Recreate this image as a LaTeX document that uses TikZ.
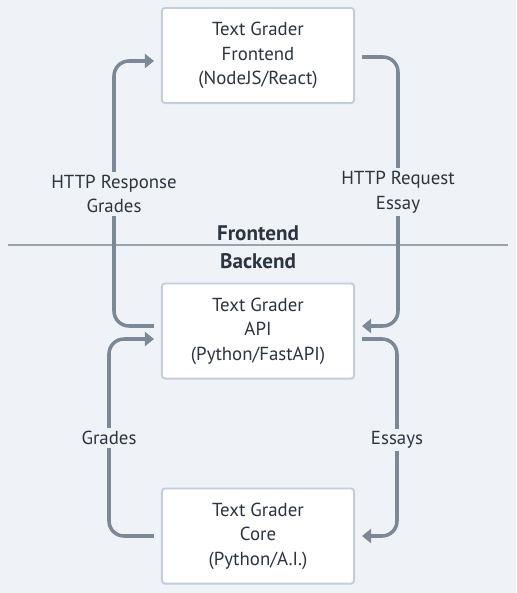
\documentclass[tikz,border=0pt]{standalone}
\usepackage{fontspec}
\setmainfont{PT Sans}
\definecolor{tg_bg}{RGB}{239, 243, 247}
\definecolor{tg_text}{RGB}{43, 52, 64}
\definecolor{tg_flow}{RGB}{123, 136, 152}
\definecolor{tg_edge}{RGB}{195, 206, 218}
\definecolor{tg_sep}{RGB}{150, 164, 178}
\usetikzlibrary{arrows.meta, calc}

\begin{document}
\begin{tikzpicture}[
        x=0.025cm, y=-0.025cm,
        every node/.style={font=\fontsize{13.4}{17.5}\selectfont, text=tg_text},
        box/.style={draw=tg_edge, line width=1.4pt, fill=white, rounded corners=2pt, minimum width=4.8cm, minimum height=2.375cm, align=center, execute at begin node={\rule{0pt}{19pt}}},
        flow/.style={draw=tg_flow, line width=2.5pt, rounded corners=0.375cm, -{Triangle[length=6.5pt, width=10pt]}},
        tag/.style={fill=tg_bg, inner sep=2pt, align=center},
        side/.style={font=\fontsize{15}{19}\selectfont\bfseries},
      ]
        \fill[tg_bg] (0,0) rectangle (516,593);
        \useasboundingbox (0,0) rectangle (516,593);

        \node[box] (fe)   at (258,55.5) {Text Grader\\Frontend\\(NodeJS/React)};
        \node[box] (api)  at (258,331)  {Text Grader\\API\\(Python/FastAPI)};
        \node[box] (core) at (258,536)  {Text Grader\\Core\\(Python/A.I.)};

        \coordinate (lt) at (114,194);
        \coordinate (rt) at (398,192);
        \coordinate (lb) at (109,438);
        \coordinate (rb) at (397,440);

        \draw[tg_sep, line width=1pt] (8,245) -- (508,245);
        \node[side] (fro) at (258,233) {Frontend};
        \node[side] (bac) at (258,261) {Backend};

        \draw[flow] ($(api.west)+(-7,-5)$) -| (lt) |- ($(fe.west)+(-7,5.5)$);
        \draw[flow] ($(fe.east)+(7,1.5)$) -| (rt) |- ($(api.east)+(7,-5)$);
        \draw[flow] ($(core.west)+(-7,0)$) -| (lb) |- ($(api.west)+(-7,8)$);
        \draw[flow] ($(api.east)+(7,8)$) -| (rb) |- ($(core.east)+(7,0)$);

        \node[tag] (resp) at (lt) {HTTP Response\\Grades};
        \node[tag] (req)  at (rt) {HTTP Request\\Essay};
        \node[tag] (grd)  at (lb) {Grades};
        \node[tag] (ess)  at (rb) {Essays};
      \end{tikzpicture}
\end{document}
